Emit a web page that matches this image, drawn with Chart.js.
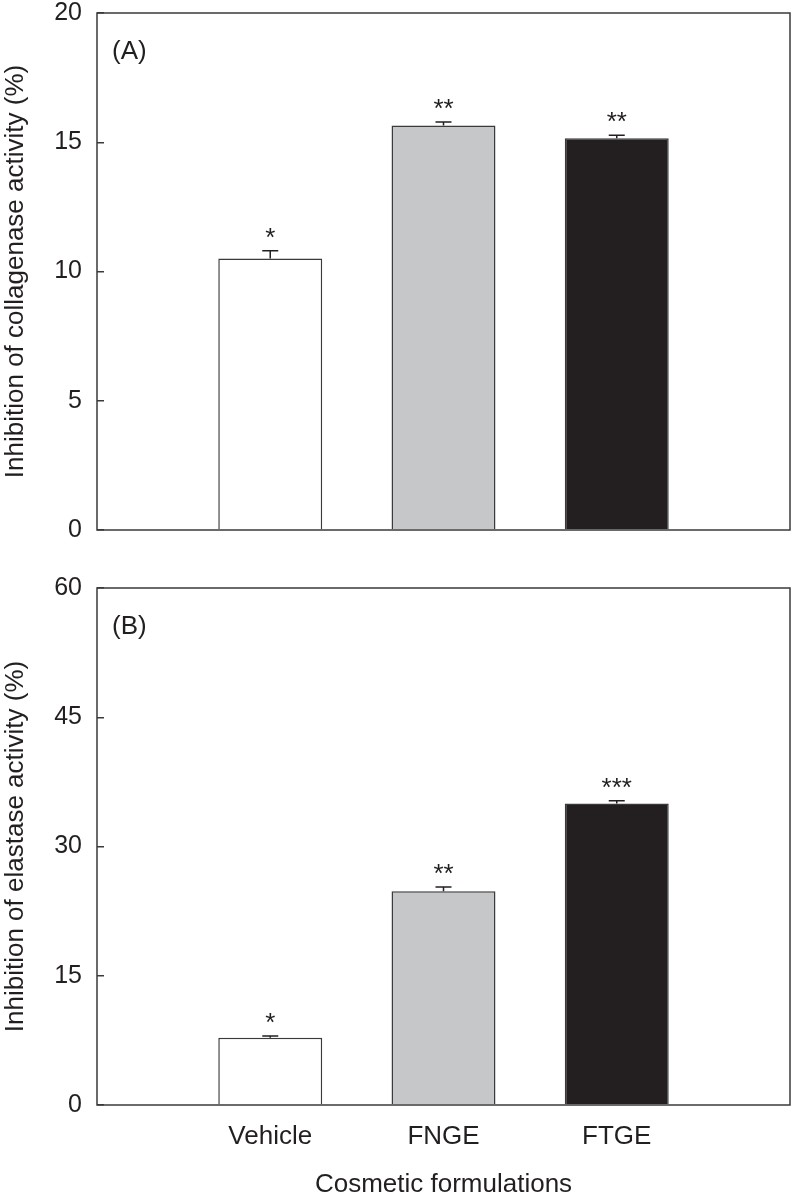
<!DOCTYPE html>
<html lang="en">
<head>
<meta charset="UTF-8">
<title>Inhibition of collagenase and elastase activity</title>
<script src="https://cdn.jsdelivr.net/npm/chart.js"></script>
<style>
  html, body { margin: 0; padding: 0; background: #fff; }
  body { width: 792px; height: 1203px; position: relative; overflow: hidden; }
  .panel { position: absolute; left: 0; }
  canvas { display: block; }
</style>
</head>
<body>
<div class="panel" style="top:0"><canvas id="chartA" width="792" height="560"></canvas></div>
<div class="panel" style="top:560px"><canvas id="chartB" width="792" height="643"></canvas></div>
<script>
// data
const categories = ['Vehicle', 'FNGE', 'FTGE'];
const collagenase = [10.5, 15.65, 15.15];
const collagenaseErr = [0.3, 0.13, 0.12];
const collagenaseSig = ['*', '**', '**'];
const elastase = [7.8, 24.8, 35.0];
const elastaseErr = [0.2, 0.5, 0.3];
const elastaseSig = ['*', '**', '***'];
const collagenaseTicks = [0, 5, 10, 15, 20];
const elastaseTicks = [0, 15, 30, 45, 60];

const barColors = ['#ffffff', '#c6c7c9', '#231f20'];
const ink = '#231f20';
const axisColor = '#3a3a3a';
const fontFamily = '"Liberation Sans", Arial, sans-serif';

Chart.defaults.font.family = fontFamily;
Chart.defaults.color = ink;

// one empty slot on each side so bars sit at quarter positions
const labels = [''].concat(categories, ['']);
const pad = arr => [null].concat(arr, [null]);

// error bars, significance stars, panel letter and frame
const extras = {
  id: 'extras',
  afterDatasetsDraw(chart, args, opts) {
    const ctx = chart.ctx;
    const xs = chart.scales.x, ys = chart.scales.y;
    const area = chart.chartArea;
    ctx.save();
    ctx.strokeStyle = ink;
    ctx.lineWidth = 1.5;
    ctx.fillStyle = ink;
    ctx.font = '26px ' + fontFamily;
    ctx.textAlign = 'center';
    ctx.textBaseline = 'alphabetic';
    opts.values.forEach((v, i) => {
      const x = xs.getPixelForValue(i + 1);
      const y0 = ys.getPixelForValue(v);
      const y1 = ys.getPixelForValue(v + opts.errors[i]);
      ctx.beginPath();
      ctx.moveTo(x, y0);
      ctx.lineTo(x, y1);
      ctx.moveTo(x - 8, y1);
      ctx.lineTo(x + 8, y1);
      ctx.stroke();
      ctx.fillText(opts.sig[i], x, y1 - 5);
    });
    ctx.textAlign = 'left';
    ctx.textBaseline = 'middle';
    ctx.fillText(opts.letter, area.left + 15, area.top + 39);
    ctx.strokeStyle = axisColor;
    ctx.strokeRect(area.left, area.top, area.right - area.left, area.bottom - area.top);
    ctx.restore();
  }
};

function makePanel(id, values, errors, sig, ticks, yTitle, letter, showX) {
  return new Chart(document.getElementById(id), {
    type: 'bar',
    data: {
      labels: labels,
      datasets: [{
        data: pad(values),
        backgroundColor: pad(barColors),
        borderColor: axisColor,
        borderWidth: 1.5,
        categoryPercentage: 0.6,
        barPercentage: 1
      }]
    },
    options: {
      responsive: false,
      animation: false,
      devicePixelRatio: 1,
      layout: { padding: showX ? { top: 28, right: 2, bottom: 0, left: 0 } : { top: 13, right: 2, bottom: 30, left: 0 } },
      plugins: {
        legend: { display: false },
        tooltip: { enabled: false },
        extras: { values: values, errors: errors, sig: sig, letter: letter }
      },
      scales: {
        x: {
          display: showX,
          offset: false,
          grid: { display: false },
          border: { display: false },
          ticks: { font: { size: 26 }, color: ink, padding: 8, maxRotation: 0, autoSkip: false },
          title: { display: true, text: 'Cosmetic formulations', font: { size: 26 }, color: ink, padding: { top: 0, bottom: 3 } },
          afterFit(scale) {
            scale.height = showX ? 98 : 0;
            scale.paddingLeft = 0;
            scale.paddingRight = 0;
          }
        },
        y: {
          min: ticks[0],
          max: ticks[ticks.length - 1],
          ticks: { stepSize: ticks[1] - ticks[0], font: { size: 25, lineHeight: 1 }, color: ink, padding: 22 },
          grid: { drawOnChartArea: false, drawTicks: true, tickLength: -7, color: axisColor, lineWidth: 1.5 },
          border: { display: false },
          title: { display: true, text: yTitle, font: { size: 26 }, color: ink, padding: { top: 0, bottom: 0 } },
          afterFit(scale) {
            scale.width = 97;
            scale.paddingTop = 0;
            scale.paddingBottom = 0;
          }
        }
      }
    },
    plugins: [extras]
  });
}

makePanel('chartA', collagenase, collagenaseErr, collagenaseSig, collagenaseTicks,
  'Inhibition of collagenase activity (%)', '(A)', false);
makePanel('chartB', elastase, elastaseErr, elastaseSig, elastaseTicks,
  'Inhibition of elastase activity (%)', '(B)', true);
</script>
</body>
</html>
